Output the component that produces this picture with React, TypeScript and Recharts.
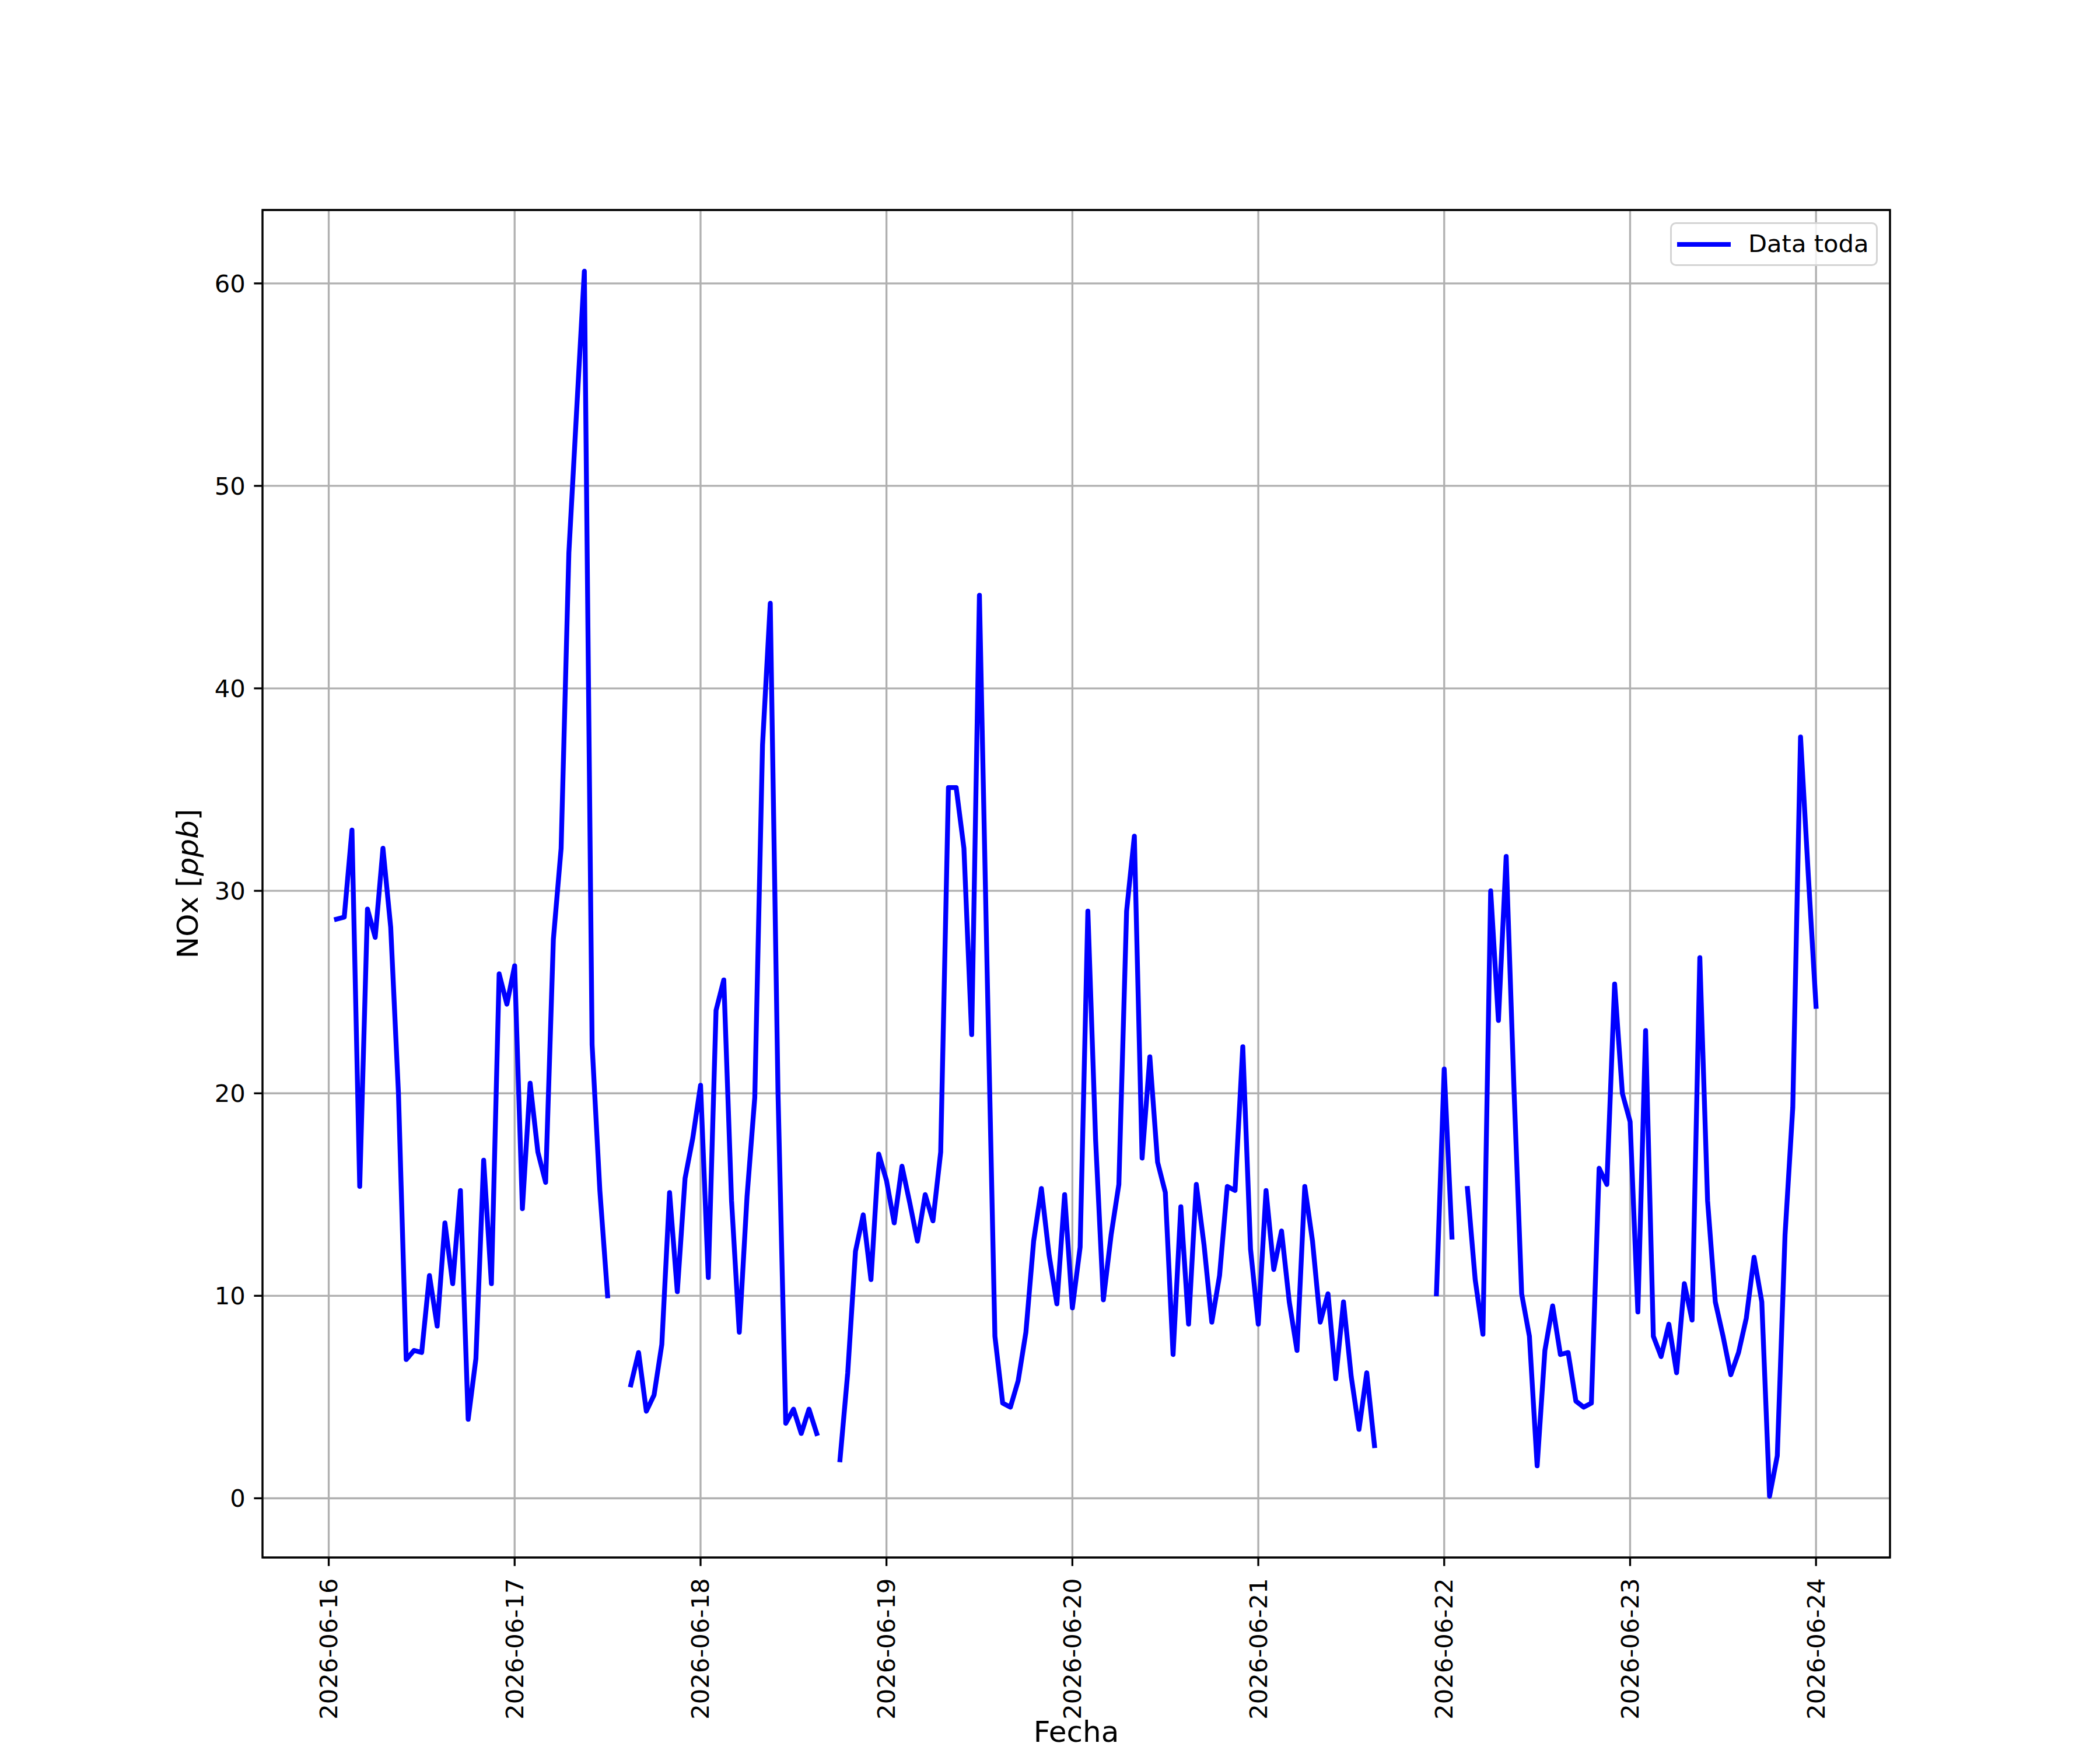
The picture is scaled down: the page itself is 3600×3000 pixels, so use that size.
import { LineChart, Line, XAxis, YAxis, CartesianGrid, ReferenceArea, Label } from "recharts"

const FONT = "DejaVu Sans"
const TICK_FS = 41.67
const LABEL_FS = 50

const dayLabels = [
  "2026-06-16",
  "2026-06-17",
  "2026-06-18",
  "2026-06-19",
  "2026-06-20",
  "2026-06-21",
  "2026-06-22",
  "2026-06-23",
  "2026-06-24",
]
const dayTicks = dayLabels.map((_, i) => i * 24)
const yTicks = [0, 10, 20, 30, 40, 50, 60]

// NOx [ppb], hourly from 2026-06-16 01:00 to 2026-06-24 00:00, null = no data
const nox: (number | null)[] = [
  // 16
  28.6, 28.7, 33.0, 15.4, 29.1, 27.7, 32.1, 28.2, 20.0, 6.85, 7.3, 7.2,
  11.0, 8.5, 13.6, 10.6, 15.2, 3.9, 6.9, 16.7, 10.6, 25.9, 24.4, 26.3,
  // 17
  14.3, 20.5, 17.1, 15.6, 27.6, 32.1, 46.7, 53.7, 60.6, 22.4, 15.2, 10.0,
  null, null, 5.6, 7.2, 4.3, 5.1, 7.6, 15.1, 10.2, 15.8, 17.8, 20.4,
  // 18
  10.9, 24.1, 25.6, 14.7, 8.2, 14.9, 19.8, 37.2, 44.2, 20.0, 3.7, 4.4,
  3.2, 4.4, 3.2, null, null, 1.9, 6.2, 12.2, 14.0, 10.8, 17.0, 15.7,
  // 19
  13.6, 16.4, 14.6, 12.7, 15.0, 13.7, 17.1, 35.1, 35.1, 32.1, 22.9, 44.6,
  26.0, 8.0, 4.7, 4.5, 5.8, 8.2, 12.7, 15.3, 12.0, 9.6, 15.0, 9.4,
  // 20
  12.4, 29.0, 17.7, 9.8, 13.0, 15.5, 29.0, 32.7, 16.8, 21.8, 16.6, 15.1,
  7.1, 14.4, 8.6, 15.5, 12.5, 8.7, 11.0, 15.4, 15.2, 22.3, 12.3, 8.6,
  // 21
  15.2, 11.3, 13.2, 9.7, 7.3, 15.4, 12.7, 8.7, 10.1, 5.9, 9.7, 6.0,
  3.4, 6.2, 2.6, null, null, null, null, null, null, null, 10.1, 21.2,
  // 22
  12.9, null, 15.3, 10.8, 8.1, 30.0, 23.6, 31.7, 20.3, 10.1, 8.0, 1.6,
  7.3, 9.5, 7.1, 7.2, 4.8, 4.5, 4.7, 16.3, 15.5, 25.4, 20.0, 18.6,
  // 23
  9.2, 23.1, 8.0, 7.0, 8.6, 6.2, 10.6, 8.8, 26.7, 14.7, 9.7, 8.0,
  6.1, 7.2, 8.9, 11.9, 9.7, 0.1, 2.1, 13.0, 19.3, 37.6, 30.8, 24.3,
]

const data = nox.map((v, i) => ({ hour: i + 1, nox: v }))

// matplotlib style 5% margins around the data
const xDomain = [1 - 0.05 * 191, 192 + 0.05 * 191]
const yDomain = [0.1 - 0.05 * 60.5, 60.6 + 0.05 * 60.5]

function DateTick({ x, y, payload }: any) {
  const label = dayLabels[Math.round(payload.value / 24)]
  return (
    <text
      transform={`translate(${x},${y}) rotate(-90)`}
      textAnchor="end"
      dominantBaseline="central"
      fontSize={TICK_FS}
      fontFamily={FONT}
      fill="#000"
    >
      {label}
    </text>
  )
}

export default function App() {
  return (
    <div style={{ position: "absolute", left: 0, top: 0, width: 3600, height: 3000, background: "#fff" }}>
      <LineChart width={3600} height={3000} data={data} margin={{ top: 360, right: 360, bottom: 30, left: 250 }}>
        <CartesianGrid stroke="#b0b0b0" strokeWidth={3.33} />
        <XAxis
          dataKey="hour"
          type="number"
          domain={xDomain}
          ticks={dayTicks}
          interval={0}
          allowDataOverflow
          height={300}
          axisLine={false}
          tickSize={14.6}
          tickMargin={21}
          tickLine={{ stroke: "#000", strokeWidth: 3.33 }}
          tick={<DateTick />}
        >
          <Label
            content={() => (
              <text x={1845} y={2986} textAnchor="middle" fontSize={LABEL_FS} fontFamily={FONT} fill="#000">
                Fecha
              </text>
            )}
          />
        </XAxis>
        <YAxis
          type="number"
          domain={yDomain}
          ticks={yTicks}
          interval={0}
          allowDataOverflow
          width={200}
          axisLine={false}
          tickSize={14.6}
          tickMargin={14.6}
          tickLine={{ stroke: "#000", strokeWidth: 3.33 }}
          tick={{ fontSize: TICK_FS, fontFamily: FONT, fill: "#000" }}
        >
          <Label
            content={() => (
              <text
                transform="translate(322,1515) rotate(-90)"
                textAnchor="middle"
                dominantBaseline="central"
                fontSize={LABEL_FS}
                fontFamily={FONT}
                fill="#000"
              >
                NOx [<tspan fontStyle="italic">ppb</tspan>]
              </text>
            )}
          />
        </YAxis>
        <Line
          dataKey="nox"
          type="linear"
          stroke="#0000ff"
          strokeWidth={8.33}
          strokeLinecap="square"
          strokeLinejoin="round"
          dot={false}
          activeDot={false}
          connectNulls={false}
          isAnimationActive={false}
        />
        <ReferenceArea
          x1={xDomain[0]}
          x2={xDomain[1]}
          y1={yDomain[0]}
          y2={yDomain[1]}
          ifOverflow="visible"
          fill="none"
          stroke="#000"
          strokeWidth={3.33}
        />
      </LineChart>
      <div
        style={{
          position: "absolute",
          left: 2863,
          top: 381,
          width: 356,
          height: 75,
          boxSizing: "border-box",
          border: "3.5px solid #d4d4d4",
          borderRadius: 10,
          background: "rgba(255,255,255,0.8)",
          fontFamily: FONT,
          fontSize: TICK_FS,
        }}
      >
        <div style={{ position: "absolute", left: 9, top: 31, width: 92, height: 8.33, background: "#0000ff" }} />
        <div style={{ position: "absolute", left: 131, top: 9, lineHeight: "50px", color: "#000", whiteSpace: "nowrap" }}>
          Data toda
        </div>
      </div>
    </div>
  )
}
